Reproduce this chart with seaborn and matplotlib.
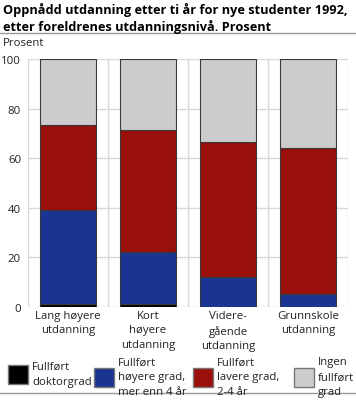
import pandas as pd
import seaborn as sns
import matplotlib.pyplot as plt
from matplotlib.patches import Patch

categories = ["Lang høyere\nutdanning", "Kort\nhøyere\nutdanning", "Videre-\ngående\nutdanning", "Grunnskole\nutdanning"]
doktorgrad = [1.2, 1.1, 0.0, 0.0]
hoyere_grad = [38.0, 21.2, 12.2, 5.1]
lavere_grad = [34.2, 49.1, 54.2, 59.1]
ingen_grad = [26.6, 28.6, 33.6, 35.8]

series_names = ["Fullført\ndoktorgrad", "Fullført\nhøyere grad,\nmer enn 4 år", "Fullført\nlavere grad,\n2-4 år", "Ingen\nfullført\ngrad"]
colors = ["#000000", "#1a3591", "#990f0a", "#cccccc"]

df = pd.DataFrame({"kategori": categories, "dok": doktorgrad, "hoy": hoyere_grad,
                   "lav": lavere_grad, "ingen": ingen_grad})

sns.set_style("white")
plt.rcParams["font.family"] = ["Open Sans", "DejaVu Sans"]

fig = plt.figure(figsize=(3.56, 4.02), dpi=100)
ax = fig.add_axes([28 / 356, 94 / 402, 320 / 356, 248 / 402])

bottom = pd.Series([0.0] * len(df))
for col, color in zip(["dok", "hoy", "lav", "ingen"], colors):
    sns.barplot(data=df, x="kategori", y=col, color=color, saturation=1, bottom=bottom, width=0.7,
                edgecolor="#3a3a3a", linewidth=0.8, ax=ax, zorder=3)
    bottom = bottom + df[col]

ax.set_ylim(0, 100)
ax.set_xlim(-0.5, 3.5)
ax.set_yticks([0, 20, 40, 60, 80, 100])
ax.set_xticks([-0.5, 0.5, 1.5, 2.5, 3.5], minor=True)
ax.grid(axis="y", color="#d9d9d9", linewidth=1, zorder=0)
ax.grid(axis="x", which="minor", color="#d9d9d9", linewidth=1, zorder=0)
ax.tick_params(axis="both", length=0, labelsize=8.2, colors="#222222")
ax.tick_params(axis="x", pad=2)
ax.tick_params(axis="y", pad=5)
for lbl in ax.get_xticklabels():
    lbl.set_linespacing(1.45)
for s in ax.spines.values():
    s.set_visible(False)
ax.set_xlabel("")
ax.set_ylabel("")

fig.text(3 / 356, 1 - 3 / 402, "Oppnådd utdanning etter ti år for nye studenter 1992,\netter foreldrenes utdanningsnivå. Prosent",
         ha="left", va="top", fontsize=9.2, fontweight="bold", color="#000000", linespacing=1.3)
fig.add_artist(plt.Line2D([0, 1], [1 - 34 / 402, 1 - 34 / 402], color="#999999", linewidth=1))
fig.text(3 / 356, 1 - 44 / 402, "Prosent", ha="left", va="center", fontsize=8.2, color="#222222")
fig.add_artist(plt.Line2D([0, 1], [1 - 394 / 402, 1 - 394 / 402], color="#999999", linewidth=1))

xs = [8, 94, 193, 294]
ys = [375, 378, 378, 378]
for name, color, x, y in zip(series_names, colors, xs, ys):
    leg = fig.legend(handles=[Patch(facecolor=color, edgecolor="#777777", label=name)],
                     loc="center left", bbox_to_anchor=(x / 356, 1 - y / 402), frameon=False,
                     fontsize=8.2, handlelength=1.75, handleheight=2.1, handletextpad=0.35,
                     borderpad=0, borderaxespad=0, labelcolor="#222222")
    for t in leg.get_texts():
        t.set_linespacing(1.5)

fig.savefig("out.png", dpi=100)
